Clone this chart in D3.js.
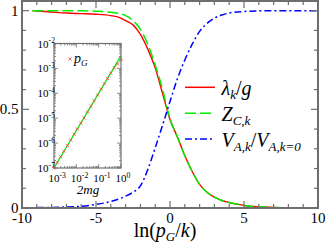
<!DOCTYPE html>
<html><head><meta charset="utf-8">
<script src="https://cdn.jsdelivr.net/npm/d3@7"></script>
<style>body{margin:0;background:#fff}svg{display:block}</style>
</head><body>
<svg id="c" width="327" height="243"></svg>
<script>
// ---- data ----
const xLambda = [-9.3,-8,-7,-6,-5,-4,-3.4,-3,-2.5,-2,-1.5,-1,-0.5,0,0.5,1,1.5,2,2.5,3,3.5,4,4.5,5,6,7,8,10];
const yLambda = [1.0,0.993,0.988,0.985,0.982,0.975,0.965,0.95,0.928,0.88,0.805,0.71,0.58,0.448,0.36,0.265,0.185,0.12,0.08,0.055,0.038,0.028,0.02,0.013,0.006,0.003,0.001,0.0];
const xZ = [-9.3,-7,-6,-5,-4,-3.4,-3,-2.5,-2,-1.5,-1,-0.5,0,0.5,1,1.5,2,2.5,3,3.5,4,4.5,5,6,7,8,10];
const yZ = [1.0,1.0,0.999,0.997,0.992,0.985,0.975,0.95,0.905,0.83,0.725,0.6,0.452,0.36,0.265,0.185,0.12,0.08,0.055,0.038,0.028,0.02,0.013,0.006,0.003,0.001,0.0];
const xV = [-10,-9,-8,-7,-6,-5,-4,-3,-2.5,-2,-1.5,-1,-0.5,0,0.5,1,1.5,2,2.5,3,3.5,4,5,6,7,8,10];
const yV = [0.001,0.002,0.003,0.005,0.009,0.018,0.033,0.06,0.08,0.112,0.195,0.305,0.42,0.54,0.655,0.75,0.83,0.895,0.935,0.962,0.978,0.988,0.996,0.999,1.0,1.0,1.0];
const xMajor = [-10,-5,0,5,10];
const xMinor = [-9,-8,-7,-6,-4,-3,-2,-1,1,2,3,4,6,7,8,9];
const yMajor = [0,0.5,1];
const yMinor = [0.1,0.2,0.3,0.4,0.6,0.7,0.8,0.9];
// inset
const mg2 = [0.001,0.0014,0.002,0.0028,0.004,0.0056,0.008,0.011,0.016,0.022,0.032,0.045,0.063,0.09,0.13,0.18,0.25,0.35,0.5,0.71,1.0];
const pG  = [1.0e-7,1.66e-7,2.83e-7,4.7e-7,8.0e-7,1.32e-6,2.26e-6,3.65e-6,6.4e-6,1.03e-5,1.81e-5,3.0e-5,5.0e-5,8.5e-5,1.48e-4,2.41e-4,3.95e-4,6.4e-4,1.05e-3,1.5e-3,2.3e-3];
const fitX = [0.001,1.0];
const fitY = [1.0e-7,3.2e-3];
const insetXExp = [-3,-2,-1,0];
const insetYExp = [-7,-6,-5,-4,-3,-2];

const svg = d3.select("#c");
const FONT = "'Liberation Serif','Times New Roman',serif";
const frameCol = "#6e6e6e";

const x = d3.scaleLinear().domain([-10,10]).range([22,318]);
const y = d3.scaleLinear().domain([0,1.05]).range([208,0.8]);

svg.append("defs").append("clipPath").attr("id","pc")
  .append("rect").attr("x",22).attr("y",0.8).attr("width",296).attr("height",207.2);

const line = d3.line().x(d=>x(d[0])).y(d=>y(d[1])).curve(d3.curveMonotoneX);
const g = svg.append("g").attr("clip-path","url(#pc)");
g.append("path").attr("d",line(d3.zip(xLambda,yLambda))).attr("fill","none").attr("stroke","#ff0000").attr("stroke-width",1.4);
g.append("path").attr("d",line(d3.zip(xZ,yZ))).attr("fill","none").attr("stroke","#00ee00").attr("stroke-width",1.5).attr("stroke-dasharray","11,4");
g.append("path").attr("d",line(d3.zip(xV,yV))).attr("fill","none").attr("stroke","#0000ff").attr("stroke-width",1.5).attr("stroke-dasharray","7,3,2,3");

// rich text helper
function rich(parent, x0, y0, size, parts, anchor){
  const t = parent.append("text").attr("x",x0).attr("y",y0).attr("font-family",FONT)
    .attr("font-size",size).attr("fill","#000");
  if(anchor) t.attr("text-anchor",anchor);
  let cur = 0;
  parts.forEach(p=>{
    const off = p.sub ? size*0.22 : (p.sup ? -size*0.4 : 0);
    t.append("tspan").attr("dy", off-cur).text(p.t)
      .attr("font-size", (p.sub||p.sup) ? size*(p.scale||0.65) : size)
      .attr("font-style", p.it ? "italic" : "normal");
    cur = off;
  });
  return t;
}

// axes ticks
const ax = svg.append("g").attr("stroke",frameCol).attr("stroke-width",1.2);
xMajor.forEach(v=>{ ax.append("line").attr("x1",x(v)).attr("x2",x(v)).attr("y1",208).attr("y2",201);
  ax.append("line").attr("x1",x(v)).attr("x2",x(v)).attr("y1",1).attr("y2",8);});
xMinor.forEach(v=>{ ax.append("line").attr("x1",x(v)).attr("x2",x(v)).attr("y1",208).attr("y2",204);
  ax.append("line").attr("x1",x(v)).attr("x2",x(v)).attr("y1",1).attr("y2",5);});
yMajor.forEach(v=>{ ax.append("line").attr("y1",y(v)).attr("y2",y(v)).attr("x1",22).attr("x2",29);
  ax.append("line").attr("y1",y(v)).attr("y2",y(v)).attr("x1",318).attr("x2",311);});
yMinor.forEach(v=>{ ax.append("line").attr("y1",y(v)).attr("y2",y(v)).attr("x1",22).attr("x2",26);
  ax.append("line").attr("y1",y(v)).attr("y2",y(v)).attr("x1",318).attr("x2",314);});

svg.append("rect").attr("x",22).attr("y",1).attr("width",296).attr("height",207)
  .attr("fill","none").attr("stroke",frameCol).attr("stroke-width",2);

// tick labels
xMajor.forEach(v=>{
  svg.append("text").attr("x",x(v)).attr("y",223).attr("text-anchor","middle")
    .attr("font-family",FONT).attr("font-size",15).text(String(v));
});
yMajor.forEach(v=>{
  svg.append("text").attr("x",18.5).attr("y",y(v)+5).attr("text-anchor","end")
    .attr("font-family",FONT).attr("font-size",15).text(String(v));
});
// x title
rich(svg, 165, 237, 20, [{t:"ln("},{t:"p",it:true},{t:"G",it:true,sub:true},{t:"/"},{t:"k",it:true},{t:")"}], "middle");

// legend
const leg = [
  {c:"#ff0000",d:null,parts:[{t:"λ",it:true},{t:"k",it:true,sub:true},{t:"/"},{t:"g",it:true}]},
  {c:"#00ee00",d:"11,4",parts:[{t:"Z",it:true},{t:"C,k",it:true,sub:true}]},
  {c:"#0000ff",d:"7,3,2,3",parts:[{t:"V",it:true},{t:"A,k",it:true,sub:true},{t:"/"},{t:"V",it:true},{t:"A,k=0",it:true,sub:true}]}
];
const legY = [87.3,113.3,139];
leg.forEach((l,i)=>{
  const ln = svg.append("line").attr("x1",185).attr("x2",215).attr("y1",legY[i]).attr("y2",legY[i])
    .attr("stroke",l.c).attr("stroke-width",1.5);
  if(l.d) ln.attr("stroke-dasharray",l.d);
  rich(svg, 221.5, legY[i]+7.5, 20, l.parts);
});

// inset
const ix = d3.scaleLog().domain([1e-3,1]).range([54,121]);
const iy = d3.scaleLog().domain([1e-7,1e-2]).range([168,43.5]);
svg.append("rect").attr("x",54).attr("y",43.5).attr("width",67).attr("height",124.5).attr("fill","#fff");
const it = svg.append("g").attr("stroke",frameCol).attr("stroke-width",0.8);
ix.ticks().forEach(v=>{
  const major = Math.abs(Math.log10(v)-Math.round(Math.log10(v)))<1e-9;
  const L = major?4:2;
  it.append("line").attr("x1",ix(v)).attr("x2",ix(v)).attr("y1",168).attr("y2",168-L);
  it.append("line").attr("x1",ix(v)).attr("x2",ix(v)).attr("y1",43.5).attr("y2",43.5+L);
});
iy.ticks().forEach(v=>{
  const major = Math.abs(Math.log10(v)-Math.round(Math.log10(v)))<1e-9;
  const L = major?4:2;
  it.append("line").attr("y1",iy(v)).attr("y2",iy(v)).attr("x1",54).attr("x2",54+L);
  it.append("line").attr("y1",iy(v)).attr("y2",iy(v)).attr("x1",121).attr("x2",121-L);
});
svg.append("path").attr("d",d3.line().x(d=>ix(d[0])).y(d=>iy(d[1]))(d3.zip(fitX,fitY)))
  .attr("stroke","#00ee00").attr("stroke-width",1.3).attr("fill","none");
const mk = svg.append("g").attr("stroke","#ff4040").attr("stroke-width",0.8);
function cross(gp,cx,cy,s){
  gp.append("line").attr("x1",cx-s).attr("x2",cx+s).attr("y1",cy-s).attr("y2",cy+s);
  gp.append("line").attr("x1",cx-s).attr("x2",cx+s).attr("y1",cy+s).attr("y2",cy-s);
}
d3.zip(mg2,pG).forEach(d=>cross(mk, ix(d[0]), iy(d[1]), 1.6));
svg.append("rect").attr("x",54).attr("y",43.5).attr("width",67).attr("height",124.5)
  .attr("fill","none").attr("stroke",frameCol).attr("stroke-width",1.2);
// inset legend
cross(mk, 70, 59, 1.6);
rich(svg, 74, 63, 14, [{t:"p",it:true},{t:"G",it:true,sub:true}]);
// inset tick labels
insetYExp.forEach(e=>{
  rich(svg, 55, iy(Math.pow(10,e))+4, 11, [{t:"10"},{t:"-"+Math.abs(e),sup:true,scale:0.7}], "end");
});
insetXExp.forEach(e=>{
  rich(svg, ix(Math.pow(10,e))-5.5, 182, 11, [{t:"10"},{t:(e<0?"-":"")+Math.abs(e),sup:true,scale:0.7}]);
});
svg.append("text").attr("x",88).attr("y",194).attr("text-anchor","middle").attr("font-family",FONT)
  .attr("font-style","italic").attr("font-size",13).text("2mg");
</script>
</body></html>
